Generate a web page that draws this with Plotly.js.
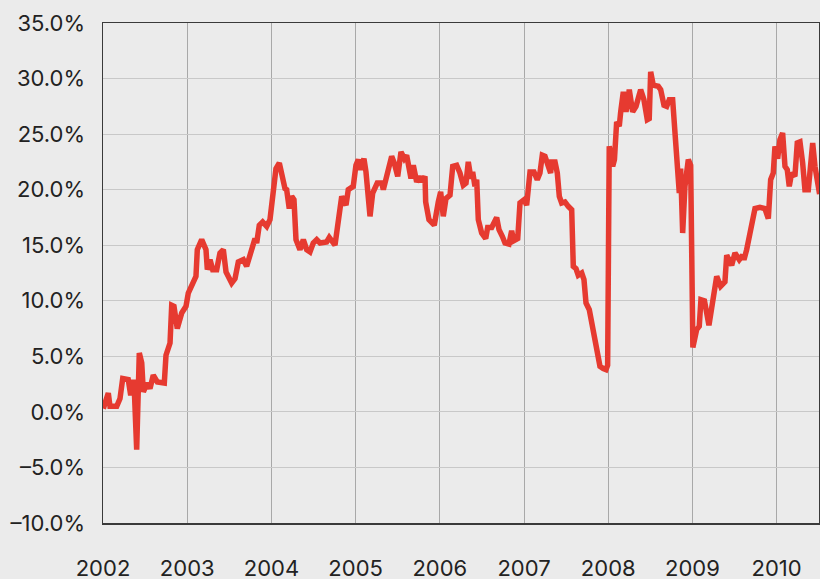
<!DOCTYPE html>
<html>
<head>
<meta charset="utf-8">
<script src="https://cdn.plot.ly/plotly-3.0.1.min.js"></script>
<style>html,body{margin:0;padding:0;background:#ebebeb;}#chart{width:820px;height:579px;}</style>
</head>
<body>
<div id="chart"></div>
<script>
// Decimal year of each reading
const years = [
2002.004,2002.063,2002.083,2002.163,2002.202,2002.234,2002.300,2002.329,2002.360,2002.374,
2002.400,2002.431,2002.460,2002.479,2002.526,2002.558,2002.597,2002.645,2002.728,2002.748,
2002.796,2002.816,2002.843,2002.882,2002.935,2002.986,2003.013,2003.053,2003.104,2003.120,
2003.172,2003.223,2003.239,2003.271,2003.303,2003.350,2003.389,2003.429,2003.461,2003.528,
2003.568,2003.607,2003.666,2003.706,2003.766,2003.805,2003.825,2003.856,2003.896,2003.944,
2003.983,2004.022,2004.054,2004.094,2004.122,2004.161,2004.181,2004.212,2004.241,2004.268,
2004.292,2004.339,2004.379,2004.419,2004.458,2004.497,2004.538,2004.577,2004.656,2004.687,
2004.755,2004.794,2004.835,2004.886,2004.913,2004.972,2005.004,2005.032,2005.060,2005.099,
2005.123,2005.171,2005.203,2005.257,2005.310,2005.329,2005.369,2005.388,2005.428,2005.459,
2005.500,2005.539,2005.578,2005.606,2005.658,2005.685,2005.725,2005.764,2005.785,2005.824,
2005.832,2005.871,2005.934,2005.982,2006.010,2006.041,2006.073,2006.121,2006.153,2006.200,
2006.239,2006.279,2006.311,2006.338,2006.370,2006.390,2006.417,2006.438,2006.457,2006.497,
2006.545,2006.568,2006.616,2006.675,2006.703,2006.742,2006.774,2006.821,2006.853,2006.877,
2006.925,2006.952,2007.003,2007.031,2007.071,2007.118,2007.157,2007.189,2007.217,2007.249,
2007.276,2007.316,2007.328,2007.368,2007.395,2007.419,2007.447,2007.486,2007.525,2007.566,
2007.585,2007.617,2007.644,2007.685,2007.712,2007.736,2007.775,2007.803,2007.831,2007.863,
2007.882,2007.902,2007.941,2007.973,2007.993,2008.012,2008.053,2008.074,2008.100,2008.131,
2008.148,2008.179,2008.211,2008.250,2008.290,2008.330,2008.385,2008.424,2008.464,2008.487,
2008.504,2008.535,2008.594,2008.623,2008.662,2008.694,2008.725,2008.765,2008.793,2008.820,
2008.844,2008.860,2008.884,2008.911,2008.951,2008.979,2009.005,2009.050,2009.081,2009.101,
2009.143,2009.196,2009.240,2009.288,2009.335,2009.386,2009.407,2009.466,2009.505,2009.556,
2009.596,2009.612,2009.644,2009.675,2009.703,2009.743,2009.802,2009.861,2009.901,2009.929,
2009.960,2009.980,2010.012,2010.039,2010.071,2010.099,2010.126,2010.150,2010.178,2010.217,
2010.245,2010.277,2010.309,2010.336,2010.376,2010.404,2010.428,2010.455,2010.494,2010.510
];
// Value in percent
const values = [
0.3,1.7,0.5,0.5,1.2,3.0,2.9,1.5,2.9,1.6,
-3.4,5.3,4.4,1.8,2.6,2.1,3.3,2.7,2.6,5.1,
6.2,9.6,9.5,7.5,8.9,9.5,10.7,11.4,12.2,14.6,
15.5,14.6,12.8,13.7,12.8,12.8,14.3,14.6,12.6,11.6,
12.0,13.5,13.7,13.1,14.9,15.6,15.2,16.8,17.1,16.7,
17.3,20.0,21.9,22.4,21.5,20.1,20.0,18.3,19.4,19.1,
15.5,14.6,15.5,14.6,14.4,15.2,15.5,15.2,15.3,15.7,
15.0,17.0,19.4,18.6,20.0,20.3,22.2,22.7,21.8,22.8,
21.6,17.6,19.7,20.6,20.6,20.0,21.3,21.8,23.0,22.4,
21.2,23.4,22.8,23.1,21.0,22.2,20.7,21.2,20.7,21.2,
18.9,17.3,16.8,18.9,19.8,17.6,19.2,19.5,22.1,22.2,
21.5,20.4,20.6,22.5,21.0,21.6,20.3,20.9,17.3,16.1,
15.6,16.6,16.6,17.5,16.4,15.8,15.2,15.1,16.3,15.4,
15.6,18.8,19.1,18.6,21.6,21.6,20.9,21.5,23.1,23.0,
22.5,21.5,22.5,22.5,21.5,19.4,18.8,18.9,18.5,18.2,
13.1,12.9,12.3,12.5,11.9,9.8,9.2,8.1,6.8,5.6,
5.0,4.1,3.9,3.8,4.2,23.9,22.1,22.7,26.1,25.7,
27.0,28.8,27.0,29.0,27.0,27.5,29.0,28.1,26.3,26.4,
30.6,29.4,29.3,29.0,27.6,27.5,28.1,28.1,25.1,22.1,
19.7,21.9,16.1,20.3,22.7,22.2,5.8,7.4,7.7,10.1,
10.0,7.8,10.1,12.2,11.3,11.7,14.1,13.2,14.3,13.7,
14.1,13.7,14.6,15.6,17.0,18.3,18.4,18.3,17.4,20.9,
21.5,23.9,22.8,24.5,25.1,22.1,21.8,20.3,21.5,21.2,
24.2,24.3,22.4,20.0,20.0,22.7,24.2,22.1,20.0,19.6
];
const yearTicks = [2002,2003,2004,2005,2006,2007,2008,2009,2010];
const yTicks = [-10,-5,0,5,10,15,20,25,30,35];

const trace = {
  x: years, y: values, type: 'scatter', mode: 'lines',
  line: {color: '#e63a30', width: 5.5},
  hoverinfo: 'skip'
};
const font = {family: 'Inter, "Liberation Sans", sans-serif', size: 22, color: '#222'};
const layout = {
  width: 820, height: 579,
  margin: {l: 103, r: 1, t: 23, b: 56},
  paper_bgcolor: '#ebebeb', plot_bgcolor: '#ebebeb',
  showlegend: false,
  font: font,
  xaxis: {
    range: [2002, 2010.503], tickvals: yearTicks, ticktext: yearTicks.map(String),
    showgrid: true, gridcolor: '#a8a8a8', gridwidth: 1,
    zeroline: false, showline: true, mirror: true, linecolor: '#3a3a3a', linewidth: 1.5,
    ticks: '', ticklabelstandoff: 25, tickfont: font
  },
  yaxis: {
    range: [-10, 35], tickvals: yTicks, ticktext: yTicks.map(v => (v < 0 ? '\u2013' + Math.abs(v).toFixed(1) : v.toFixed(1)) + '%'),
    showgrid: true, gridcolor: '#c8c8c8', gridwidth: 1,
    zeroline: false, showline: true, mirror: true, linecolor: '#3a3a3a', linewidth: 1.5,
    ticks: '', ticklabelstandoff: 12, tickfont: font
  }
};
Plotly.newPlot('chart', [trace], layout, {staticPlot: true, displayModeBar: false});
</script>
</body>
</html>
